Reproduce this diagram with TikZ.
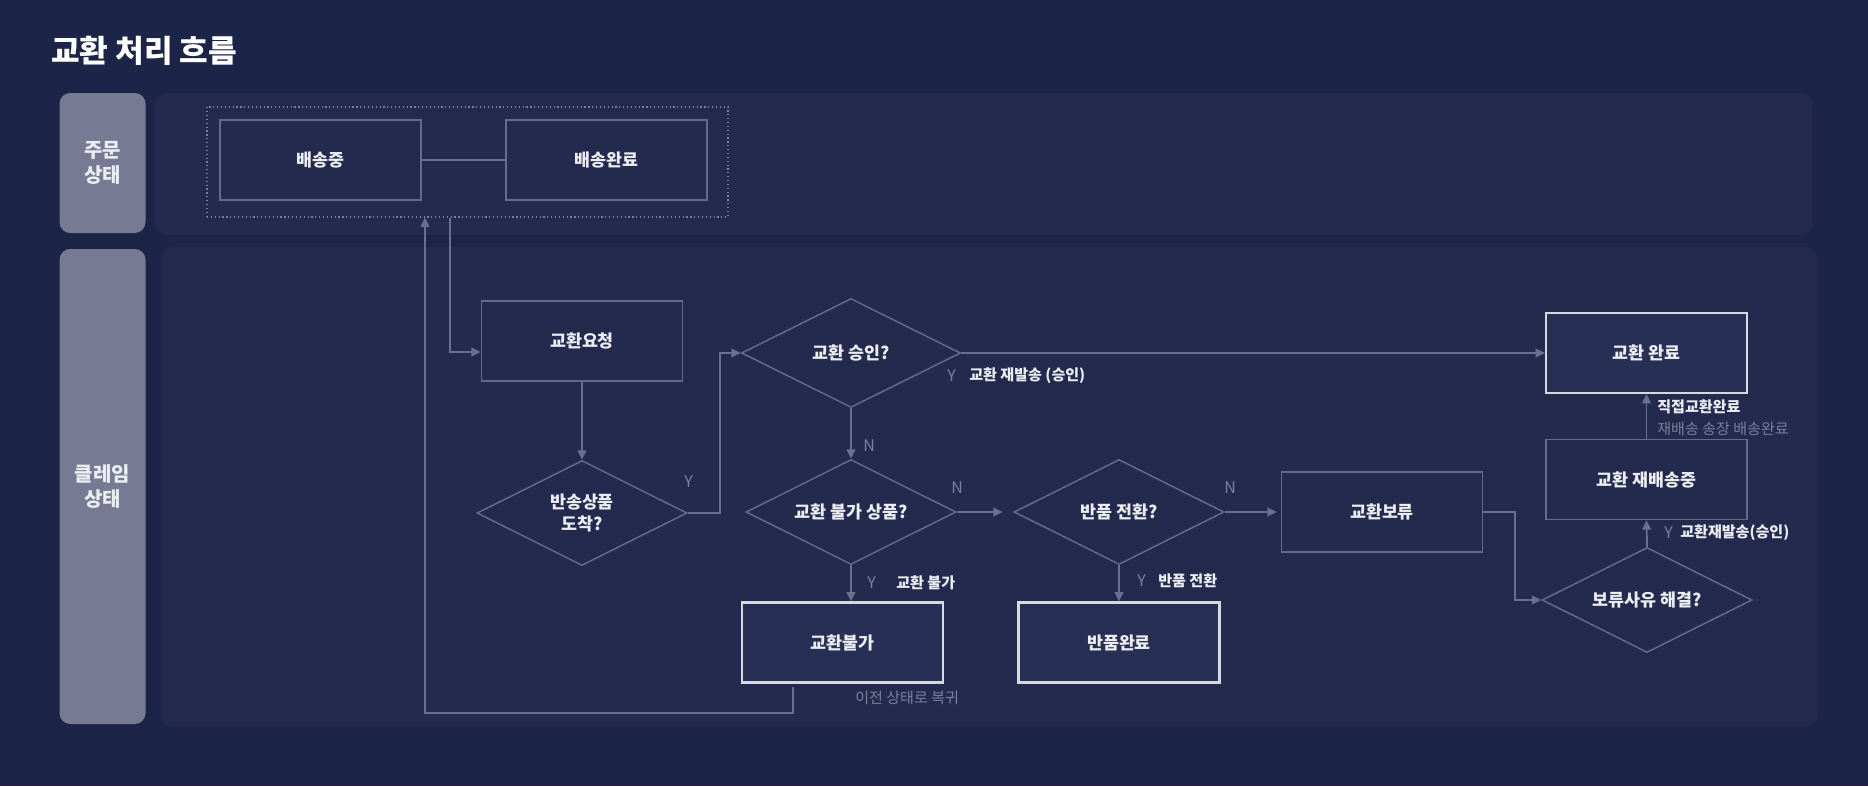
\documentclass[tikz,border=0pt]{standalone}
\usepackage{fontspec}
\setmainfont{Noto Sans CJK KR}
\usetikzlibrary{shapes.geometric,arrows.meta,calc}
\definecolor{bgc}{RGB}{28,36,71}
\definecolor{panelc}{RGB}{35,42,78}
\definecolor{lanec}{RGB}{118,122,146}
\definecolor{linec}{RGB}{105,111,140}
\definecolor{boxc}{RGB}{100,106,136}
\definecolor{endc}{RGB}{215,217,225}
\definecolor{endfill}{RGB}{40,47,84}
\definecolor{txtc}{RGB}{236,237,242}
\definecolor{subc}{RGB}{122,128,154}
\tikzset{
  box/.style={rectangle,draw=boxc,line width=1.2pt,fill=panelc,minimum width=150.75pt,
    minimum height=60pt,inner sep=0pt,text=txtc,font=\bfseries\fontsize{13}{15}\selectfont},
  endbox/.style={box,draw=endc,line width=1.6pt,fill=endfill},
  cond/.style={diamond,aspect=2,draw=boxc,line width=1.1pt,fill=panelc,minimum width=157.5pt,
    minimum height=78.75pt,inner sep=0pt,text=txtc,align=center,
    font=\bfseries\fontsize{13}{17}\selectfont},
  flow/.style={draw=linec,line width=1.4pt,-{Triangle[length=7pt,width=6.5pt]}},
  link/.style={draw=linec,line width=1.4pt},
  yn/.style={anchor=west,inner sep=0pt,text=subc,font=\fontsize{12}{14}\selectfont},
  note/.style={anchor=west,inner sep=0pt,text=txtc,font=\bfseries\fontsize{11.3}{13}\selectfont},
  subnote/.style={anchor=west,inner sep=0pt,text=subc,font=\fontsize{11.3}{13}\selectfont},
  lane/.style={rectangle,rounded corners=8pt,fill=lanec,minimum width=64.5pt,inner sep=0pt,
    align=center,text=txtc,font=\bfseries\fontsize{15}{19}\selectfont},
  group/.style={rectangle,draw=subc,dotted,line width=0.9pt,minimum width=390.75pt,
    minimum height=82.5pt,inner sep=0pt}
}
\begin{document}
\begin{tikzpicture}[x=0.75pt,y=-0.75pt]
    \useasboundingbox (0,0) rectangle (1868,786);
    \fill[bgc] (0,0) rectangle (1868,786);
    \fill[panelc,rounded corners=8pt] (155,93) rectangle (1812,235);
    \fill[panelc,rounded corners=8pt] (161,247) rectangle (1817,727);
    \node[anchor=west,inner sep=0pt,text=white,font=\bfseries\fontsize{23.3}{26}\selectfont] (title) at (51,51) {교환 처리 흐름};
    \node[lane,minimum height=105pt] (ordlane) at (102.5,163) {주문\\상태};
    \node[lane,minimum height=356.25pt] (clmlane) at (102.5,486.5) {클레임\\상태};

    \node[group] (grp) at (467.5,162) {};
    \node[box] (ship) at (320.5,160) {배송중};
    \node[box] (shipdone) at (606.5,160) {배송완료};
    \node[box] (req) at (582,341) {교환요청};
    \node[cond] (arr) at (582,513) {반송상품\\도착?};
    \node[cond,minimum width=164.25pt,minimum height=81.75pt] (appr) at (851,353) {교환 승인?};
    \node[cond] (nonex) at (851,512) {교환 불가 상품?};
    \node[cond] (rtn) at (1119,512) {반품 전환?};
    \node[box] (hold) at (1382,512) {교환보류};
    \node[endbox] (nope) at (842.5,642.5) {교환불가};
    \node[endbox] (rdone) at (1119,642.5) {반품완료};
    \node[endbox] (done) at (1646.5,353) {교환 완료};
    \node[box] (resend) at (1646.5,479.5) {교환 재배송중};
    \node[cond] (fix) at (1647,600) {보류사유 해결?};

    \draw[link] (ship.east) -- (shipdone.west);
    \draw[flow] ($(grp.south)+(-17.5,0)$) |- ($(req.west)+(0,11)$);
    \draw[flow] ($(nope.south)+(-49.5,3)$) -- ++(0,26) -| ($(grp.south)+(-42.5,0)$);
    \draw[flow] (req.south) -- (arr.north);
    \draw[flow] (arr.east) -- ++(32,0) |- (appr.west);
    \draw[flow] (appr.east) -- (done.west);
    \draw[flow] (appr.south) -- (nonex.north);
    \draw[flow,shorten >=8pt] (nonex.east) -- (rtn.west);
    \draw[flow] (nonex.south) -- (nonex.south |- nope.north);
    \draw[flow,shorten >=3pt] (rtn.east) -- (hold.west);
    \draw[flow] (rtn.south) -- (rdone.north);
    \draw[flow] (hold.east) -- ++(32,0) |- (fix.west);
    \draw[flow] (fix.north) -- (resend.south);
    \draw[flow] (resend.north) -- (done.south);

    \node[yn] (ya) at (684,482) {Y};
    \node[yn] (yb) at (947,376) {Y};
    \node[note] (nb) at (969,376) {교환 재발송 (승인)};
    \node[yn] (na) at (863,446) {N};
    \node[yn] (nc) at (951,488) {N};
    \node[yn] (yc) at (867,583) {Y};
    \node[note] (nc2) at (896,583) {교환 불가};
    \node[yn] (nd) at (1224,488) {N};
    \node[yn] (yd) at (1137,581) {Y};
    \node[note] (nd2) at (1158,581) {반품 전환};
    \node[yn] (ye) at (1664,533) {Y};
    \node[note] (ne) at (1680,533) {교환재발송(승인)};
    \node[note] (nf) at (1657,407) {직접교환완료};
    \node[subnote] (nf2) at (1657,429) {재배송 송장 배송완료};
    \node[subnote] (back) at (855,698) {이전 상태로 복귀};
\end{tikzpicture}
\end{document}
